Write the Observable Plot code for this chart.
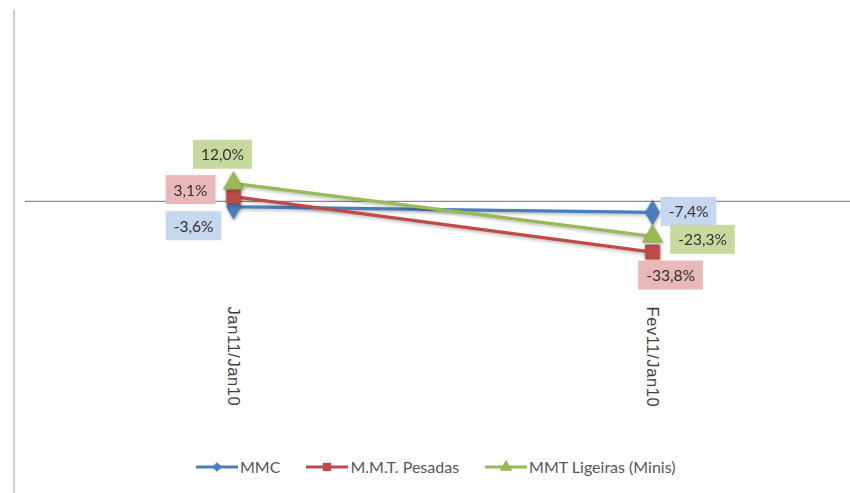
<!DOCTYPE html>
<html>
<head>
<meta charset="utf-8">
<script src="https://cdn.jsdelivr.net/npm/d3@7"></script>
<script src="https://cdn.jsdelivr.net/npm/@observablehq/plot@0.6"></script>
<style>
  html, body { margin: 0; padding: 0; background: #fff; }
  #wrap { position: relative; width: 850px; height: 493px; overflow: hidden; }
  #border { position: absolute; left: 13px; top: 10px; width: 2px; height: 483px; background: #d6c6ca; }
  #legend { position: absolute; left: 196px; top: 457px; display: flex; align-items: center;
            font: 16px Lato, sans-serif; color: #5a5560; }
  #legend .item { display: flex; align-items: center; margin-right: 26px; }
  #legend svg { margin-right: 2px; }
  g.sline { filter: drop-shadow(1px 2px 1.5px rgba(0,0,0,0.25)); }
</style>
</head>
<body>
<div id="wrap">
  <div id="chart"></div>
  <div id="border"></div>
  <div id="legend"></div>
</div>
<script>
const categories = ["Jan11/Jan10", "Fev11/Jan10"];
const seriesNames = ["MMC", "M.M.T. Pesadas", "MMT Ligeiras (Minis)"];
const mmc = [-3.6, -7.4];
const pesadas = [3.1, -33.8];
const ligeiras = [12.0, -23.3];

const seriesValues = [mmc, pesadas, ligeiras];
const colors = ["#4a7ebb", "#be4b48", "#98b954"];
const boxColors = ["#c6d7ef", "#e8b9b8", "#c6d99f"];
const symbols = ["diamond", "square", "triangle"];
const symbolR = [7.5, 8, 7.5];
// label nudges (layout only): [series][category] -> [dx, dy]
const nudges = [
  [[-40, 20], [36, 0]],
  [[-43, -6], [18, 24]],
  [[-11, -28], [50, 4]]
];

const rows = [];
seriesNames.forEach((s, si) => {
  categories.forEach((c, ci) => {
    rows.push({series: s, si, category: c, ci, value: seriesValues[si][ci]});
  });
});
const fmt = v => v.toFixed(1).replace(".", ",") + "%";

const marks = [
  Plot.ruleY([0], {stroke: "#8c8c8c", strokeWidth: 1.2}),
  Plot.axisX({tickRotate: 90, tickSize: 0, tickPadding: 6, fontSize: 16.5, label: null,
              fill: "#404040", fontFamily: "Liberation Sans"})
];
seriesNames.forEach((s, si) => {
  const d = rows.filter(r => r.si === si);
  marks.push(Plot.line(d, {x: "category", y: "value", stroke: colors[si], strokeWidth: 3.2, className: "sline"}));
  marks.push(Plot.dot(d, {x: "category", y: "value", symbol: symbols[si], r: symbolR[si],
                          fill: colors[si], stroke: d3.color(colors[si]).darker(0.4).formatHex(), strokeWidth: 0.8,
                          className: "sline"}));
});
rows.forEach(r => {
  const [dx, dy] = nudges[r.si][r.ci];
  marks.push(Plot.text([r], {x: "category", y: "value", text: d => fmt(d.value), dx, dy,
    fontSize: 15.5, fontFamily: "Lato, sans-serif", fill: "#333", textAnchor: "middle",
    className: "dlabel s" + r.si}));
});

const chart = Plot.plot({
  width: 850,
  height: 445,
  marginLeft: 25,
  marginRight: 0,
  marginTop: 10,
  marginBottom: 145,
  x: {type: "point", domain: categories, range: [233, 652], padding: 0, axis: null, label: null},
  y: {domain: [-66, 127], axis: null},
  style: {background: "transparent", overflow: "visible"},
  marks
});
document.getElementById("chart").appendChild(chart);

// tick label font (Arial-like, as in the reference)
chart.querySelectorAll("text").forEach(t => {
  if (categories.includes(t.textContent)) {
    t.style.fontFamily = "'Liberation Sans', Arial, sans-serif";
    t.style.letterSpacing = "0.6px";
  }
});

// data label backgrounds
seriesNames.forEach((s, si) => {
  chart.querySelectorAll("g.s" + si + " text").forEach(t => {
    const b = t.getBBox();
    const rect = document.createElementNS("http://www.w3.org/2000/svg", "rect");
    const padX = 8, padY = 7;
    rect.setAttribute("x", b.x - padX);
    rect.setAttribute("y", b.y - padY + 1.5);
    rect.setAttribute("width", b.width + 2 * padX);
    rect.setAttribute("height", b.height + 2 * padY - 3);
    rect.setAttribute("fill", boxColors[si]);
    const tr = t.getAttribute("transform");
    if (tr) rect.setAttribute("transform", tr);
    t.parentNode.insertBefore(rect, t);
  });
});

// legend
const legend = document.getElementById("legend");
seriesNames.forEach((s, si) => {
  const item = document.createElement("div");
  item.className = "item";
  const sym = d3.symbol(si === 0 ? d3.symbolDiamond2 : si === 1 ? d3.symbolSquare : d3.symbolTriangle, si === 0 ? 60 : 70)();
  item.innerHTML = `<svg width="42" height="16"><line x1="0" y1="8" x2="42" y2="8" stroke="${colors[si]}" stroke-width="3"/>` +
    `<path d="${sym}" transform="translate(21,8)" fill="${colors[si]}"/></svg><span>${s}</span>`;
  legend.appendChild(item);
});
</script>
</body>
</html>
